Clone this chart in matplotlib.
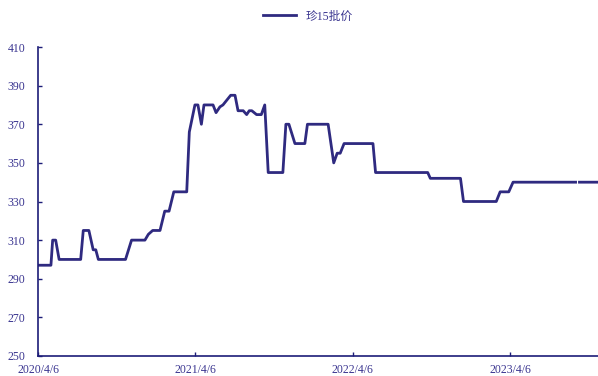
import matplotlib.pyplot as plt
import numpy as np

# breakpoints of the weekly price series (date, value); None = missing week
dates = ["2020-04-06", "2020-05-06", "2020-05-10", "2020-05-17", "2020-05-25",
         "2020-07-14", "2020-07-20", "2020-08-02", "2020-08-12", "2020-08-18",
         "2020-08-24", "2020-10-26", "2020-11-09", "2020-12-10", "2020-12-18",
         "2020-12-28", "2021-01-14", "2021-01-25", "2021-02-04", "2021-02-15",
         "2021-03-17", "2021-03-23", "2021-04-05", "2021-04-12", "2021-04-20",
         "2021-04-26", "2021-05-17", "2021-05-24", "2021-06-02", "2021-06-09",
         "2021-06-27", "2021-07-07", "2021-07-14", "2021-07-26", "2021-08-03",
         "2021-08-09", "2021-08-15", "2021-08-26", "2021-09-06", "2021-09-14",
         "2021-09-22", "2021-10-26", "2021-11-02", "2021-11-09", "2021-11-23",
         "2021-12-16", "2021-12-22", "2022-02-08", "2022-02-21", "2022-03-01",
         "2022-03-08", "2022-03-17", "2022-05-23", "2022-05-29", "2022-09-27",
         "2022-10-03", "2022-12-12", "2022-12-19", "2023-03-05", "2023-03-14",
         "2023-04-03", "2023-04-13", "2023-09-05", "2023-09-10", "2023-09-14",
         "2023-10-26"]
prices = [297, 297, 310, 310, 300,
          300, 315, 315, 305, 305,
          300, 300, 310, 310, 313,
          315, 315, 325, 325, 335,
          335, 366, 380, 380, 370,
          380, 380, 376, 379, 380,
          385, 385, 377, 377, 375,
          377, 377, 375, 375, 380,
          345, 345, 370, 370, 360,
          360, 370, 370, 350, 355,
          355, 360, 360, 345, 345,
          342, 342, 330, 330, 335,
          335, 340, 340, None, 340,
          340]

tick_dates = ["2020-04-06", "2021-04-06", "2022-04-06", "2023-04-06"]
tick_labels = ["2020/4/6", "2021/4/6", "2022/4/6", "2023/4/6"]
y_ticks = [250, 270, 290, 310, 330, 350, 370, 390, 410]

navy = "#2f2a80"
text_c = "#3a3590"
plt.rcParams['font.family'] = ['Liberation Serif', 'Noto Sans CJK SC']

x = np.array(dates, dtype="datetime64[D]")
y = np.array([np.nan if p is None else p for p in prices], dtype=float)

fig = plt.figure(figsize=(5.98, 3.76), dpi=100)
ax = fig.add_axes([38 / 598, 1 - 356 / 376, 1 - 38 / 598, (356 - 47) / 376])
ax.plot(x, y, color=navy, lw=2.0, label="珍15批价")

ax.set_ylim(250, 410)
ax.set_xlim(np.datetime64("2020-04-06"), np.datetime64("2023-10-27"))
ax.set_yticks(y_ticks)
ax.set_xticks(np.array(tick_dates, dtype="datetime64[D]"))
ax.set_xticklabels(tick_labels)

for s in ["top", "right"]:
    ax.spines[s].set_visible(False)
for s in ["left", "bottom"]:
    ax.spines[s].set_color("#1c1c78")
    ax.spines[s].set_linewidth(1.2)

ax.tick_params(axis="both", direction="in", length=3, width=1, color="#1c1c78",
               labelcolor=text_c, labelsize=8.5)
ax.tick_params(axis="y", pad=9)
ax.tick_params(axis="x", pad=6)

leg = fig.legend(loc="upper center", bbox_to_anchor=(0.515, 1.0), frameon=False,
                 fontsize=8.5, handlelength=2.8)
for t in leg.get_texts():
    t.set_color(text_c)

fig.savefig("out.png", dpi=100)
